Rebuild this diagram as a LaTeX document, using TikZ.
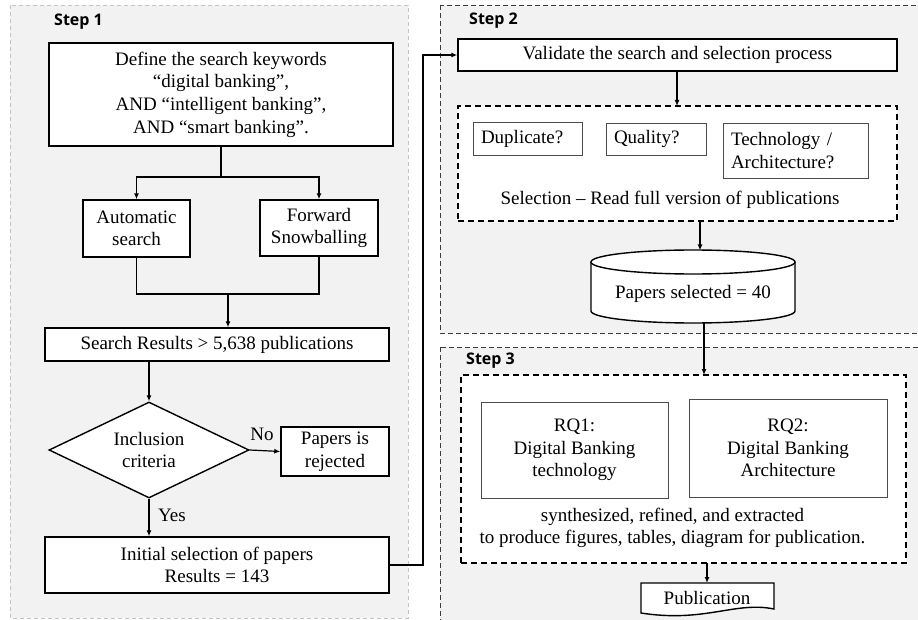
\documentclass[tikz,border=0pt]{standalone}
\usepackage{fontspec}
\setmainfont{Liberation Serif}
\newfontfamily\stepfont{Open Sans}
\usetikzlibrary{arrows.meta,shapes.geometric}
\definecolor{panelfill}{RGB}{242,242,242}
\definecolor{panelline}{RGB}{195,195,195}
\definecolor{panelline2}{RGB}{60,60,60}
\begin{document}
\begin{tikzpicture}[x=1pt,y=-1pt,
  txt/.style={font=\fontsize{19}{22.6}\selectfont},
  box/.style={draw=black, line width=1.4pt, fill=white, txt, align=center, inner sep=0pt},
  sbox/.style={draw=black!70, line width=0.8pt, fill=white, txt, align=left, inner ysep=0pt, inner xsep=8pt},
  dbox/.style={draw=black, line width=1.4pt, dash pattern=on 6pt off 4pt, fill=white, inner sep=0pt},
  panelA/.style={fill=panelfill, draw=panelline, line width=0.8pt, dash pattern=on 4pt off 3pt},
  panelB/.style={fill=panelfill, draw=panelline2, line width=0.8pt, dash pattern=on 5pt off 3pt},
  steplbl/.style={font=\stepfont\bfseries\fontsize{16}{18}\selectfont, anchor=west, inner sep=0pt},
  conn/.style={draw=black, line width=1.2pt},
  arr/.style={conn, -{Latex[length=6pt,width=5pt]}},
  lbl/.style={txt, inner sep=0pt}
]
\useasboundingbox (0,0) rectangle (918,620);
\clip (0,0) rectangle (918,620);
\fill[white] (0,0) rectangle (918,620);

% panels
\draw[panelA] (10,5) rectangle (408,618);
\draw[panelB] (440,5) rectangle (930,333);
\draw[panelB] (440,347) rectangle (930,640);
\node[steplbl] (s1) at (54,22) {Step 1};
\node[steplbl] (s2) at (469,21) {Step 2};
\node[steplbl] (s3) at (466,361) {Step 3};

% Step 1
\node[box, minimum width=344, minimum height=103] (define) at (221,94.5)
  {Define the search keywords\\“digital banking”,\\AND “intelligent banking”,\\AND “smart banking”.};
\node[box, minimum width=107, minimum height=57] (auto) at (136.5,228.5) {Automatic\\search};
\node[box, minimum width=118, minimum height=56] (fwd) at (319,228) {Forward\\Snowballing};
\node[box, minimum width=344, minimum height=33] (search) at (217,344.5) {Search Results > 5,638 publications};
\node[diamond, draw=black, line width=1.4pt, fill=white, txt, align=center, inner sep=0pt,
      aspect=2.08, minimum width=200, minimum height=96] (incl) at (149,450) {Inclusion\\criteria};
\node[box, minimum width=108, minimum height=49] (rej) at (335,451.5) {Papers is\\rejected};
\node[box, minimum width=344, minimum height=56] (init) at (217,565) {Initial selection of papers\\Results = 143};

\coordinate (split) at (221,177);
\coordinate (merge) at (228,294);
\draw[conn] (define.south) -- (split);
\draw[arr] (split) -| (auto.north);
\draw[arr] (split) -| (fwd.north);
\draw[conn] (auto.south) |- (merge);
\draw[conn] (fwd.south) |- (merge);
\draw[arr] (merge) -- (merge |- search.north);
\draw[arr] (incl.north |- search.south) -- (incl.north);
\draw[arr] (incl.east) -- (rej.west);
\node[lbl] (no) at (262,434) {No};
\draw[arr] (incl.south) -- (incl.south |- init.north);
\node[lbl] (yes) at (172,515) {Yes};

% Step 2
\node[box, minimum width=439, minimum height=32] (valid) at (677.5,55) {Validate the search and selection process};
\draw[arr] (init.east) -- (423,565) |- (valid.west);
\node[dbox, minimum width=439, minimum height=115] (sel) at (677.5,163.5) {};
\draw[arr] (677,71) -- (677 ,106);
\node[sbox, text width=93, minimum height=33] (dup) at (527.5,138.5) {Duplicate?};
\node[sbox, text width=84, minimum height=32] (qual) at (656,139) {Quality?};
\node[sbox, text width=129, minimum height=55] (tech) at (795.5,150.5) {Technology /\\Architecture?};
\node[lbl] (seltxt) at (670,200) {Selection – Read full version of publications};

% cylinder
\draw[line width=1.4pt, fill=white] (591,262) -- (591,311)
  arc[start angle=180, end angle=360, x radius=102pt, y radius=12pt] -- (795,262);
\draw[line width=1.4pt, fill=white] (693,262) ellipse [x radius=102pt, y radius=12pt];
\node[lbl] (cyl) at (693,294) {Papers selected = 40};
\coordinate (cyltop) at (700,250.5);
\draw[arr] (700,221) -- (cyltop);

% Step 3
\node[dbox, minimum width=445, minimum height=188] (syn) at (683.5,469) {};
\coordinate (cylbot) at (704,323);
\draw[arr] (cylbot) -- (704,375);
\node[sbox, align=center, inner xsep=0pt, minimum width=187, minimum height=96] (rq1) at (574.5,450) {RQ1:\\Digital Banking\\technology};
\node[sbox, align=center, inner xsep=0pt, minimum width=198, minimum height=98] (rq2) at (788,448) {RQ2:\\Digital Banking\\Architecture};
\node[lbl, align=center] (syntxt) at (672.5,528) {synthesized, refined, and extracted\\to produce figures, tables, diagram for publication.};

% publication
\draw[line width=1.4pt, fill=white] (641,583) -- (774,583) -- (774,609)
  .. controls (735,601) and (705,623) .. (641,613) -- cycle;
\node[lbl] (pub) at (707,598) {Publication};
\draw[arr] (707,563) -- (707,583);
\end{tikzpicture}
\end{document}
